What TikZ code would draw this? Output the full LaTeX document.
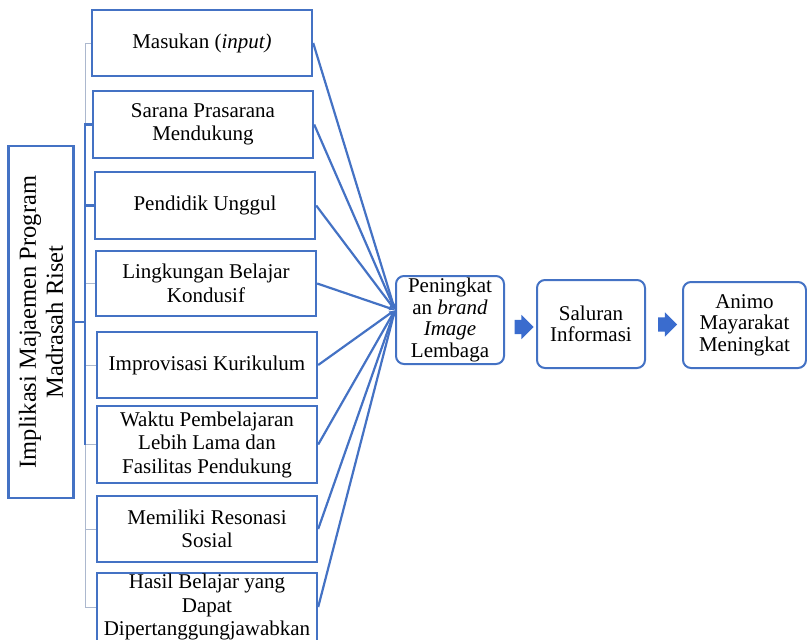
\documentclass[tikz,border=0pt]{standalone}
\usepackage{fontspec}
\setmainfont{Liberation Serif}
\usetikzlibrary{shapes.arrows,calc,arrows.meta}
\definecolor{boxblue}{RGB}{68,114,196}
\definecolor{treegray}{RGB}{172,184,206}
\definecolor{arrowblue}{RGB}{58,108,206}

\begin{document}
\begin{tikzpicture}[x=1pt,y=-1pt,
    itembox/.style={draw=boxblue,line width=2.4pt,fill=white,align=center,inner sep=0pt,
      minimum width=220pt,font=\fontsize{21}{23.5}\selectfont},
    roundbox/.style={draw=boxblue,line width=2pt,rounded corners=8pt,align=center,inner sep=0pt,
      minimum height=88pt,font=\fontsize{21}{21.5}\selectfont},
    thinlink/.style={draw=treegray,line width=1pt},
    thicklink/.style={draw=boxblue,line width=2.4pt},
    hublink/.style={draw=boxblue,line width=2.2pt,-{Latex[length=6pt,width=5pt]}},
    blockarrow/.style={single arrow,fill=arrowblue,draw=none,inner xsep=0pt,inner ysep=7pt,
      minimum height=19pt,single arrow head extend=5pt}]
    \useasboundingbox (0,0) rectangle (807,640);
    \clip (0,0) rectangle (807,640);

    \node[draw=boxblue,line width=2.4pt,rotate=90,align=center,inner sep=0pt,minimum width=352pt,
      minimum height=65pt,font=\fontsize{24.5}{27}\selectfont] (implikasi) at (41,322)
      {Implikasi Majaemen Program\\Madrasah Riset};

    \node[itembox,minimum height=66pt] (masukan) at (202,43) {Masukan (\textit{input)}};
    \node[itembox,minimum height=67pt] (sarana) at (203,124.5) {Sarana Prasarana\\Mendukung};
    \node[itembox,minimum height=67pt] (pendidik) at (205,205.5) {Pendidik Unggul};
    \node[itembox,minimum height=65pt] (lingkungan) at (206,283.5) {Lingkungan Belajar\\Kondusif};
    \node[itembox,minimum height=66pt] (improvisasi) at (207,365) {Improvisasi Kurikulum};
    \node[itembox,minimum height=77pt] (waktu) at (207,444.5) {Waktu Pembelajaran\\Lebih Lama dan\\Fasilitas Pendukung};
    \node[itembox,minimum height=66pt] (memiliki) at (207,529) {Memiliki Resonasi\\Sosial};
    \node[itembox,minimum height=68pt] (hasil) at (207,607) {Hasil Belajar yang\\Dapat\\Dipertanggungjawabkan};

    \node[roundbox,minimum width=108pt] (peningkat) at (450,320) {Peningkat\\an \textit{brand}\\\textit{Image}\\Lembaga};
    \node[roundbox,minimum width=108pt] (saluran) at (591,324) {Saluran\\Informasi};
    \node[roundbox,minimum width=123pt,minimum height=86pt] (animo) at (744.5,325) {Animo\\Mayarakat\\Meningkat};

    \node[blockarrow] (panah1) at ($(peningkat.east)!0.5!(saluran.west)+(0,5)$) {};
    \node[blockarrow] (panah2) at ($(saluran.east)!0.5!(animo.west)$) {};

    \coordinate (trunk) at (85,0);
    \coordinate (hub) at (395,310);

    \draw[thinlink] (masukan.west -| trunk) -- (hasil.west -| trunk);
    \foreach \b in {masukan,sarana,pendidik,lingkungan,improvisasi,waktu,memiliki,hasil}
        \draw[thinlink] (\b.west -| trunk) -- (\b.west);
    \draw[thicklink] (implikasi.south) -- (implikasi.south -| trunk) |- (sarana.west);
    \draw[thicklink] (pendidik.west -| trunk) -- (pendidik.west);
    \draw[boxblue,line width=1.6pt] (implikasi.south -| trunk) -- (waktu.west -| trunk);

    \foreach \b in {masukan,sarana,pendidik,lingkungan,improvisasi,waktu,memiliki,hasil}
        \draw[hublink] (\b.east) -- (hub);
\end{tikzpicture}
\end{document}
